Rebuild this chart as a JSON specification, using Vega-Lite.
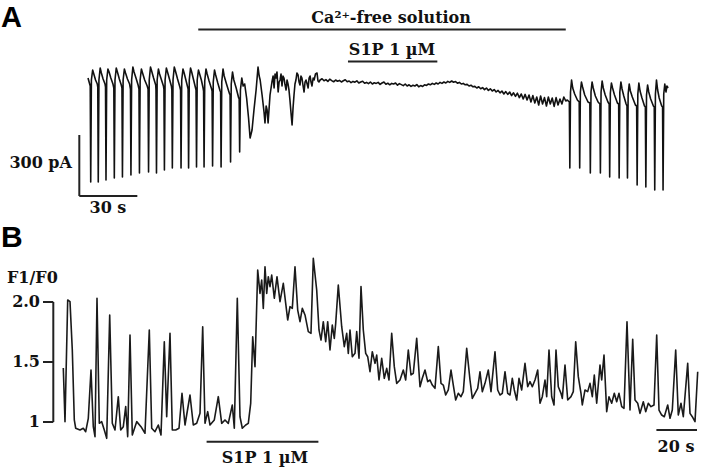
{
  "$schema": "https://vega.github.io/schema/vega-lite/v6.json",
  "padding": 0,
  "spacing": 0,
  "background": "white",
  "config": {"view": {"stroke": null}},
  "vconcat": [
    {
      "width": 706,
      "height": 218,
      "layer": [
        {
          "data": {"values": [
            {"t":0,"v":-30},
            {"t":1.15,"v":-70},{"t":1.4,"v":-550},{"t":1.75,"v":-40},{"t":2.4,"v":10},{"t":3.0,"v":-10},{"t":3.9,"v":-40},{"t":4.8,"v":-60},
            {"t":5.05,"v":-75},{"t":5.3,"v":-550},{"t":5.65,"v":-40},{"t":6.3,"v":20},{"t":6.9,"v":-5},{"t":7.8,"v":-35},{"t":8.8,"v":-60},
            {"t":9.05,"v":-75},{"t":9.3,"v":-540},{"t":9.65,"v":-40},{"t":10.3,"v":15},{"t":10.9,"v":0},{"t":11.8,"v":-30},{"t":12.9,"v":-60},
            {"t":13.35,"v":-80},{"t":13.6,"v":-530},{"t":13.95,"v":-40},{"t":14.6,"v":20},{"t":15.2,"v":0},{"t":16.2,"v":-35},{"t":17.2,"v":-65},
            {"t":17.55,"v":-80},{"t":17.8,"v":-525},{"t":18.15,"v":-40},{"t":18.8,"v":15},{"t":19.4,"v":-5},{"t":20.4,"v":-35},{"t":21.5,"v":-60},
            {"t":21.95,"v":-85},{"t":22.2,"v":-515},{"t":22.55,"v":-40},{"t":23.2,"v":25},{"t":23.8,"v":0},{"t":24.8,"v":-30},{"t":25.9,"v":-65},
            {"t":26.35,"v":-85},{"t":26.6,"v":-505},{"t":26.95,"v":-40},{"t":27.6,"v":15},{"t":28.2,"v":-5},{"t":29.3,"v":-40},{"t":30.6,"v":-70},
            {"t":31.05,"v":-85},{"t":31.3,"v":-500},{"t":31.65,"v":-40},{"t":32.3,"v":25},{"t":32.9,"v":5},{"t":33.9,"v":-30},{"t":35.0,"v":-65},
            {"t":35.15,"v":-90},{"t":35.4,"v":-505},{"t":35.75,"v":-40},{"t":36.4,"v":15},{"t":37.0,"v":-10},{"t":38.0,"v":-40},{"t":39.0,"v":-70},
            {"t":39.25,"v":-85},{"t":39.5,"v":-490},{"t":39.85,"v":-40},{"t":40.5,"v":20},{"t":41.1,"v":0},{"t":42.1,"v":-35},{"t":43.1,"v":-70},
            {"t":43.35,"v":-90},{"t":43.6,"v":-480},{"t":43.95,"v":-40},{"t":44.6,"v":25},{"t":45.2,"v":5},{"t":46.3,"v":-35},{"t":47.5,"v":-75},
            {"t":47.85,"v":-90},{"t":48.1,"v":-480},{"t":48.45,"v":-40},{"t":49.1,"v":15},{"t":49.7,"v":-5},{"t":50.6,"v":-40},{"t":51.5,"v":-75},
            {"t":51.75,"v":-85},{"t":52.0,"v":-480},{"t":52.35,"v":-40},{"t":53.0,"v":20},{"t":53.6,"v":0},{"t":54.6,"v":-40},{"t":55.6,"v":-80},
            {"t":55.85,"v":-90},{"t":56.1,"v":-475},{"t":56.45,"v":-40},{"t":57.1,"v":10},{"t":57.7,"v":-10},{"t":58.6,"v":-40},{"t":59.5,"v":-80},
            {"t":59.75,"v":-95},{"t":60.0,"v":-475},{"t":60.35,"v":-45},{"t":61.0,"v":15},{"t":61.6,"v":-10},{"t":62.6,"v":-45},{"t":63.9,"v":-85},
            {"t":64.15,"v":-95},{"t":64.4,"v":-470},{"t":64.75,"v":-50},{"t":65.4,"v":10},{"t":66.0,"v":-15},{"t":67.1,"v":-55},{"t":68.3,"v":-95},
            {"t":68.55,"v":-100},{"t":68.8,"v":-475},{"t":69.15,"v":-50},{"t":69.8,"v":15},{"t":70.4,"v":-20},{"t":71.6,"v":-60},{"t":73.2,"v":-110},
            {"t":73.45,"v":-110},{"t":73.7,"v":-450},{"t":74.05,"v":-60},{"t":74.7,"v":0},{"t":75.4,"v":-40},{"t":76.6,"v":-80},{"t":77.9,"v":-130},
            {"t":78.15,"v":-130},{"t":78.4,"v":-400},{"t":78.8,"v":-90},{"t":79.5,"v":-30},{"t":80.2,"v":-70},{"t":81.0,"v":-60},{"t":82.0,"v":-130},
            {"t":83.0,"v":-230},{"t":83.8,"v":-330},{"t":84.8,"v":-290},{"t":85.8,"v":-190},{"t":86.9,"v":-90},{"t":87.9,"v":25},{"t":88.5,"v":-20},
            {"t":89.0,"v":-40},{"t":90.0,"v":-115},{"t":91.0,"v":-200},{"t":91.5,"v":-255},{"t":92.1,"v":-170},{"t":92.6,"v":-190},{"t":93.1,"v":-255},
            {"t":94.1,"v":-115},{"t":95.1,"v":-50},{"t":95.7,"v":-20},{"t":96.2,"v":-80},{"t":96.7,"v":-10},{"t":97.2,"v":-30},{"t":97.7,"v":0},
            {"t":98.3,"v":-100},{"t":98.8,"v":-50},{"t":99.3,"v":-40},{"t":99.8,"v":-10},{"t":100.3,"v":-70},{"t":100.8,"v":-20},{"t":101.3,"v":-30},
            {"t":101.8,"v":-60},{"t":102.4,"v":-90},{"t":102.9,"v":-40},{"t":103.4,"v":-60},{"t":103.9,"v":-90},{"t":104.4,"v":-140},{"t":105.0,"v":-210},
            {"t":105.5,"v":-265},{"t":106.0,"v":-180},{"t":106.5,"v":-115},{"t":107.0,"v":-60},{"t":107.5,"v":-40},{"t":108.0,"v":-5},{"t":108.6,"v":-15},
            {"t":109.1,"v":-50},{"t":109.6,"v":-65},{"t":110.1,"v":-20},{"t":110.6,"v":-30},{"t":111.2,"v":-70},{"t":111.7,"v":-100},{"t":112.2,"v":-50},
            {"t":112.7,"v":-40},{"t":113.3,"v":-60},{"t":113.8,"v":-80},{"t":114.3,"v":-30},{"t":114.8,"v":-20},{"t":115.3,"v":-50},{"t":115.8,"v":-70},
            {"t":116.4,"v":-30},{"t":116.9,"v":-40},{"t":117.6,"v":-10},{"t":118.4,"v":-5},{"t":118.9,"v":-45},{"t":119.4,"v":-50},
            {"t":120,"v":-40},{"t":121,"v":-34},{"t":122,"v":-44},{"t":123,"v":-38},{"t":124,"v":-47},{"t":125,"v":-36},{"t":126,"v":-43},{"t":127,"v":-49},
            {"t":128,"v":-40},{"t":129,"v":-46},{"t":130,"v":-42},{"t":131,"v":-50},{"t":132,"v":-44},{"t":133,"v":-39},{"t":134,"v":-49},{"t":135,"v":-45},
            {"t":136,"v":-53},{"t":137,"v":-47},{"t":138,"v":-51},{"t":139,"v":-44},{"t":140,"v":-55},{"t":141,"v":-50},{"t":142,"v":-46},{"t":143,"v":-56},
            {"t":144,"v":-52},{"t":145,"v":-58},{"t":146,"v":-50},{"t":147,"v":-60},{"t":148,"v":-54},{"t":149,"v":-57},{"t":150,"v":-52},{"t":151,"v":-62},
            {"t":152,"v":-55},{"t":153,"v":-50},{"t":154,"v":-61},{"t":155,"v":-56},{"t":156,"v":-64},{"t":157,"v":-57},{"t":158,"v":-60},{"t":159,"v":-55},
            {"t":160,"v":-66},{"t":161,"v":-58},{"t":162,"v":-63},{"t":163,"v":-68},{"t":164,"v":-60},{"t":165,"v":-70},{"t":166,"v":-64},{"t":167,"v":-72},
            {"t":168,"v":-66},{"t":169,"v":-70},{"t":170,"v":-63},{"t":171,"v":-74},{"t":172,"v":-68},{"t":173,"v":-72},{"t":174,"v":-64},{"t":175,"v":-67},
            {"t":176,"v":-60},{"t":177,"v":-64},{"t":178,"v":-57},{"t":179,"v":-62},{"t":180,"v":-55},{"t":181,"v":-60},{"t":182,"v":-52},{"t":183,"v":-57},
            {"t":184,"v":-50},{"t":185,"v":-55},{"t":186,"v":-47},{"t":187,"v":-52},{"t":188,"v":-45},{"t":189,"v":-51},{"t":190,"v":-48},{"t":191,"v":-56},
            {"t":192,"v":-52},{"t":193,"v":-60},{"t":194,"v":-57},{"t":195,"v":-64},{"t":196,"v":-62},{"t":197,"v":-70},{"t":198,"v":-66},{"t":199,"v":-74},
            {"t":200,"v":-72},{"t":201,"v":-80},{"t":202,"v":-74},{"t":203,"v":-84},{"t":204,"v":-78},{"t":205,"v":-88},{"t":206,"v":-80},{"t":207,"v":-92},
            {"t":208,"v":-84},{"t":209,"v":-95},{"t":210,"v":-88},{"t":211,"v":-100},{"t":212,"v":-92},{"t":213,"v":-104},{"t":214,"v":-95},{"t":215,"v":-110},
            {"t":216,"v":-98},{"t":217,"v":-112},{"t":218,"v":-100},{"t":219,"v":-118},{"t":220,"v":-104},{"t":221,"v":-122},{"t":222,"v":-106},{"t":223,"v":-128},
            {"t":224,"v":-110},{"t":225,"v":-135},{"t":226,"v":-112},{"t":227,"v":-140},{"t":228,"v":-115},{"t":229,"v":-150},{"t":230,"v":-118},{"t":231,"v":-155},
            {"t":232,"v":-125},{"t":233,"v":-165},{"t":234,"v":-120},{"t":235,"v":-160},{"t":236,"v":-128},{"t":237,"v":-170},{"t":238,"v":-125},{"t":239,"v":-160},
            {"t":240,"v":-130},{"t":241,"v":-172},{"t":242,"v":-128},{"t":243,"v":-165},{"t":244,"v":-135},{"t":245,"v":-160},{"t":246,"v":-125},{"t":247,"v":-145},
            {"t":247.8,"v":-140},
            {"t":248.85,"v":-150},{"t":249.1,"v":-480},{"t":249.45,"v":-100},{"t":250.0,"v":-40},{"t":250.6,"v":-80},{"t":251.6,"v":-110},{"t":253.0,"v":-140},
            {"t":253.95,"v":-150},{"t":254.2,"v":-480},{"t":254.55,"v":-100},{"t":255.1,"v":-50},{"t":255.7,"v":-75},{"t":256.8,"v":-115},{"t":258.5,"v":-150},
            {"t":259.45,"v":-155},{"t":259.7,"v":-505},{"t":260.05,"v":-100},{"t":260.6,"v":-50},{"t":261.2,"v":-80},{"t":262.3,"v":-120},{"t":263.7,"v":-150},
            {"t":264.65,"v":-160},{"t":264.9,"v":-505},{"t":265.25,"v":-100},{"t":265.8,"v":-45},{"t":266.4,"v":-80},{"t":267.4,"v":-115},{"t":268.8,"v":-150},
            {"t":269.45,"v":-160},{"t":269.7,"v":-525},{"t":270.05,"v":-105},{"t":270.6,"v":-55},{"t":271.2,"v":-80},{"t":272.2,"v":-115},{"t":273.7,"v":-155},
            {"t":274.35,"v":-160},{"t":274.6,"v":-530},{"t":274.95,"v":-100},{"t":275.5,"v":-50},{"t":276.1,"v":-85},{"t":277.0,"v":-120},{"t":278.2,"v":-160},
            {"t":278.65,"v":-170},{"t":278.9,"v":-530},{"t":279.25,"v":-110},{"t":279.8,"v":-60},{"t":280.4,"v":-95},{"t":281.4,"v":-125},{"t":283.0,"v":-165},
            {"t":283.65,"v":-170},{"t":283.9,"v":-565},{"t":284.25,"v":-110},{"t":284.8,"v":-55},{"t":285.4,"v":-95},{"t":286.4,"v":-130},{"t":287.7,"v":-170},
            {"t":288.15,"v":-175},{"t":288.4,"v":-575},{"t":288.75,"v":-115},{"t":289.3,"v":-65},{"t":289.9,"v":-100},{"t":290.9,"v":-135},{"t":292.3,"v":-170},
            {"t":292.75,"v":-175},{"t":293.0,"v":-590},{"t":293.35,"v":-110},{"t":293.9,"v":-40},{"t":294.5,"v":-90},{"t":295.3,"v":-130},{"t":296.6,"v":-170},
            {"t":297.05,"v":-175},{"t":297.3,"v":-590},{"t":297.65,"v":-110},{"t":298.2,"v":-60},{"t":298.8,"v":-100},{"t":299.3,"v":-70},{"t":299.9,"v":-80}
          ]},
          "mark": {"type": "line", "color": "#111111", "strokeWidth": 1.6, "strokeJoin": "round"},
          "encoding": {
            "x": {"field": "t", "type": "quantitative", "scale": {"domain": [-45.5, 319.5], "nice": false, "zero": false}, "axis": null},
            "y": {"field": "v", "type": "quantitative", "scale": {"domain": [-730, 360], "nice": false, "zero": false}, "axis": null}
          }
        },
        {
          "data": {"values": [
            {"x1": 57.0, "x2": 247.0, "y1": 213, "y2": 213},
            {"x1": 134.4, "x2": 180.6, "y1": 52, "y2": 52},
            {"x1": -4.5, "x2": -4.5, "y1": -315, "y2": -620},
            {"x1": -4.5, "x2": 25.5, "y1": -620, "y2": -620}
          ]},
          "mark": {"type": "rule", "color": "#222222", "strokeWidth": 2},
          "encoding": {
            "x": {"field": "x1", "type": "quantitative"},
            "x2": {"field": "x2"},
            "y": {"field": "y1", "type": "quantitative"},
            "y2": {"field": "y2"}
          }
        },
        {
          "data": {"values": [{"t": -45, "v": 225, "label": "A"}]},
          "mark": {"type": "text", "font": "Liberation Sans", "fontWeight": "bold", "fontSize": 29, "align": "left", "baseline": "alphabetic", "color": "#000000"},
          "encoding": {
            "x": {"field": "t", "type": "quantitative"},
            "y": {"field": "v", "type": "quantitative"},
            "text": {"field": "label"}
          }
        },
        {
          "data": {"values": [
            {"t": 156.7, "v": 245, "label": "Ca²⁺-free solution"},
            {"t": 157.2, "v": 85, "label": "S1P 1 µM"},
            {"t": 10.3, "v": -705, "label": "30 s"}
          ]},
          "mark": {"type": "text", "font": "DejaVu Serif", "fontWeight": "bold", "fontSize": 16, "align": "center", "baseline": "alphabetic", "color": "#111111"},
          "encoding": {
            "x": {"field": "t", "type": "quantitative"},
            "y": {"field": "v", "type": "quantitative"},
            "text": {"field": "label"}
          }
        },
        {
          "data": {"values": [{"t": -8.3, "v": -480, "label": "300 pA"}]},
          "mark": {"type": "text", "font": "DejaVu Serif", "fontWeight": "bold", "fontSize": 16, "align": "right", "baseline": "alphabetic", "color": "#111111"},
          "encoding": {
            "x": {"field": "t", "type": "quantitative"},
            "y": {"field": "v", "type": "quantitative"},
            "text": {"field": "label"}
          }
        }
      ]
    },
    {
      "width": 706,
      "height": 256,
      "layer": [
        {
          "data": {"values": [
            {"t":0.65,"f":1.45},{"t":1.5,"f":1.003},{"t":2.85,"f":2.017},{"t":4.0,"f":2.003},{"t":5.15,"f":1.6},{"t":6.15,"f":1.017},
            {"t":6.85,"f":0.948},{"t":9.0,"f":0.933},{"t":10.65,"f":0.948},{"t":11.85,"f":0.919},{"t":13.15,"f":1.031},{"t":14.5,"f":1.433},
            {"t":15.65,"f":0.961},{"t":16.5,"f":0.878},{"t":17.5,"f":2.031},{"t":18.65,"f":0.989},{"t":19.85,"f":1.003},{"t":21.15,"f":0.933},
            {"t":22.35,"f":0.864},{"t":23.85,"f":1.892},{"t":25.15,"f":0.989},{"t":26.5,"f":0.933},{"t":28.15,"f":1.211},{"t":29.35,"f":0.933},
            {"t":30.65,"f":0.961},{"t":31.85,"f":1.128},{"t":32.85,"f":0.878},{"t":34.0,"f":1.725},{"t":35.15,"f":0.892},{"t":37.35,"f":1.003},
            {"t":39.5,"f":0.961},{"t":41.5,"f":0.906},{"t":43.65,"f":1.767},{"t":44.85,"f":0.948},{"t":46.5,"f":0.919},{"t":48.15,"f":0.975},
            {"t":49.5,"f":0.892},{"t":51.15,"f":1.669},{"t":52.35,"f":1.044},{"t":54.0,"f":1.739},{"t":55.15,"f":0.933},{"t":56.85,"f":0.933},
            {"t":58.5,"f":0.948},{"t":60.0,"f":1.239},{"t":61.5,"f":0.975},{"t":64.0,"f":1.225},{"t":65.65,"f":0.975},{"t":67.35,"f":0.989},
            {"t":69.0,"f":1.072},{"t":70.35,"f":1.794},{"t":71.5,"f":0.989},{"t":72.85,"f":1.086},{"t":74.0,"f":0.975},{"t":76.15,"f":1.017},
            {"t":78.15,"f":1.211},{"t":79.85,"f":0.989},{"t":81.5,"f":1.017},{"t":83.15,"f":0.989},{"t":85.15,"f":1.142},{"t":86.15,"f":0.948},
            {"t":87.65,"f":2.031},{"t":89.0,"f":1.044},{"t":90.15,"f":0.948},{"t":91.85,"f":0.975},{"t":93.15,"f":0.989},{"t":94.35,"f":1.156},
            {"t":95.35,"f":1.711},{"t":96.5,"f":1.461},{"t":97.85,"f":2.267},{"t":99.0,"f":2.072},{"t":99.85,"f":2.183},{"t":100.65,"f":1.947},
            {"t":101.5,"f":2.294},{"t":102.35,"f":2.072},{"t":103.15,"f":2.211},{"t":104.0,"f":2.128},{"t":104.85,"f":2.225},{"t":106.15,"f":2.031},
            {"t":107.5,"f":2.211},{"t":109.0,"f":2.003},{"t":110.65,"f":2.156},{"t":111.85,"f":1.989},{"t":112.85,"f":1.85},{"t":114.0,"f":1.961},
            {"t":115.15,"f":1.947},{"t":116.5,"f":2.294},{"t":117.85,"f":1.933},{"t":119.0,"f":1.836},{"t":120.15,"f":1.947},{"t":121.5,"f":1.892},
            {"t":123.15,"f":1.753},{"t":124.5,"f":1.739},{"t":125.65,"f":2.364},{"t":127.35,"f":2.1},{"t":128.5,"f":1.767},{"t":129.5,"f":1.683},
            {"t":130.65,"f":1.836},{"t":131.85,"f":1.669},{"t":132.85,"f":1.836},{"t":134.0,"f":1.6},{"t":135.15,"f":1.808},{"t":136.15,"f":1.697},
            {"t":136.85,"f":1.822},{"t":138.15,"f":2.142},{"t":139.85,"f":1.794},{"t":141.15,"f":1.628},{"t":142.35,"f":1.739},{"t":143.15,"f":1.572},
            {"t":144.0,"f":1.767},{"t":145.15,"f":1.544},{"t":146.5,"f":1.572},{"t":147.35,"f":1.753},{"t":148.5,"f":1.531},{"t":149.5,"f":2.128},
            {"t":150.65,"f":1.767},{"t":151.85,"f":1.572},{"t":152.85,"f":1.544},{"t":154.0,"f":1.419},{"t":155.15,"f":1.586},{"t":156.5,"f":1.489},
            {"t":157.35,"f":1.558},{"t":158.5,"f":1.35},{"t":159.85,"f":1.531},{"t":161.15,"f":1.364},{"t":162.35,"f":1.447},{"t":163.5,"f":1.35},
            {"t":164.85,"f":1.739},{"t":166.15,"f":1.461},{"t":167.35,"f":1.322},{"t":169.0,"f":1.35},{"t":170.65,"f":1.433},{"t":171.85,"f":1.35},
            {"t":173.15,"f":1.6},{"t":174.5,"f":1.392},{"t":175.65,"f":1.406},{"t":177.35,"f":1.697},{"t":179.0,"f":1.294},{"t":180.15,"f":1.364},
            {"t":181.5,"f":1.433},{"t":182.85,"f":1.336},{"t":184.0,"f":1.35},{"t":185.15,"f":1.308},{"t":186.5,"f":1.281},{"t":188.15,"f":1.628},
            {"t":189.5,"f":1.322},{"t":190.65,"f":1.308},{"t":191.85,"f":1.225},{"t":193.15,"f":1.267},{"t":194.5,"f":1.433},{"t":195.65,"f":1.308},
            {"t":196.85,"f":1.183},{"t":198.15,"f":1.239},{"t":199.5,"f":1.211},{"t":200.65,"f":1.253},{"t":202.35,"f":1.614},{"t":204.0,"f":1.35},
            {"t":205.15,"f":1.197},{"t":206.5,"f":1.239},{"t":207.85,"f":1.281},{"t":209.0,"f":1.419},{"t":210.15,"f":1.253},{"t":211.5,"f":1.322},
            {"t":213.15,"f":1.433},{"t":214.5,"f":1.253},{"t":216.5,"f":1.586},{"t":217.85,"f":1.267},{"t":219.0,"f":1.225},{"t":220.15,"f":1.239},
            {"t":221.5,"f":1.419},{"t":222.85,"f":1.239},{"t":224.0,"f":1.225},{"t":225.15,"f":1.364},{"t":226.15,"f":1.267},{"t":227.35,"f":1.183},
            {"t":228.5,"f":1.364},{"t":229.85,"f":1.267},{"t":231.5,"f":1.489},{"t":232.85,"f":1.294},{"t":234.0,"f":1.336},{"t":235.15,"f":1.294},
            {"t":236.5,"f":1.35},{"t":237.85,"f":1.433},{"t":239.0,"f":1.156},{"t":240.15,"f":1.211},{"t":241.5,"f":1.35},{"t":242.35,"f":1.211},
            {"t":243.5,"f":1.6},{"t":244.85,"f":1.211},{"t":246.0,"f":1.142},{"t":247.0,"f":1.6},{"t":248.15,"f":1.294},{"t":249.5,"f":1.239},
            {"t":250.15,"f":1.197},{"t":251.5,"f":1.475},{"t":252.85,"f":1.183},{"t":254.5,"f":1.211},{"t":255.65,"f":1.253},{"t":256.85,"f":1.669},
            {"t":258.15,"f":1.378},{"t":259.5,"f":1.239},{"t":260.15,"f":1.142},{"t":261.5,"f":1.267},{"t":262.85,"f":1.253},{"t":264.0,"f":1.322},
            {"t":265.15,"f":1.211},{"t":266.15,"f":1.392},{"t":267.35,"f":1.156},{"t":269.0,"f":1.475},{"t":269.85,"f":1.35},{"t":271.0,"f":1.558},
            {"t":272.35,"f":1.086},{"t":273.5,"f":1.211},{"t":274.85,"f":1.156},{"t":276.15,"f":1.239},{"t":277.35,"f":1.169},{"t":278.5,"f":1.239},
            {"t":279.85,"f":1.128},{"t":281.0,"f":1.114},{"t":282.5,"f":1.836},{"t":284.0,"f":1.1},{"t":285.35,"f":1.689},{"t":286.5,"f":1.183},
            {"t":287.85,"f":1.156},{"t":289.0,"f":1.072},{"t":290.65,"f":1.169},{"t":291.85,"f":1.086},{"t":293.15,"f":1.156},{"t":294.5,"f":1.128},
            {"t":296.0,"f":1.142},{"t":297.35,"f":1.725},{"t":298.5,"f":1.1},{"t":299.85,"f":1.058},{"t":301.15,"f":1.044},{"t":302.85,"f":1.142},
            {"t":304.0,"f":1.031},{"t":305.15,"f":1.1},{"t":306.85,"f":1.6},{"t":308.15,"f":1.058},{"t":309.5,"f":1.156},{"t":310.65,"f":1.044},
            {"t":312.85,"f":1.489},{"t":314.0,"f":1.072},{"t":315.15,"f":1.044},{"t":316.5,"f":1.003},{"t":317.85,"f":1.419}
          ]},
          "mark": {"type": "line", "color": "#1a1a1a", "strokeWidth": 1.6, "strokeJoin": "round"},
          "encoding": {
            "x": {"field": "t", "type": "quantitative", "scale": {"domain": [-31, 322], "nice": false, "zero": false}, "axis": null},
            "y": {"field": "f", "type": "quantitative", "scale": {"domain": [0.5667, 2.7], "nice": false, "zero": false}, "axis": null}
          }
        },
        {
          "data": {"values": [
            {"x1": -4.35, "x2": -4.35, "y1": 1, "y2": 2},
            {"x1": -9.5, "x2": -4.35, "y1": 2, "y2": 2},
            {"x1": -9.5, "x2": -4.35, "y1": 1.5, "y2": 1.5},
            {"x1": -9.5, "x2": -4.35, "y1": 1, "y2": 1},
            {"x1": 72.3, "x2": 128.2, "y1": 0.836, "y2": 0.836},
            {"x1": 297.2, "x2": 317.5, "y1": 0.933, "y2": 0.933}
          ]},
          "mark": {"type": "rule", "color": "#222222", "strokeWidth": 2},
          "encoding": {
            "x": {"field": "x1", "type": "quantitative"},
            "x2": {"field": "x2"},
            "y": {"field": "y1", "type": "quantitative"},
            "y2": {"field": "y2"}
          }
        },
        {
          "data": {"values": [{"t": -30.5, "f": 2.458, "label": "B"}]},
          "mark": {"type": "text", "font": "Liberation Sans", "fontWeight": "bold", "fontSize": 30, "align": "left", "baseline": "alphabetic", "color": "#000000"},
          "encoding": {
            "x": {"field": "t", "type": "quantitative"},
            "y": {"field": "f", "type": "quantitative"},
            "text": {"field": "label"}
          }
        },
        {
          "data": {"values": [
            {"t": -11, "f": 2.0, "label": "2.0"},
            {"t": -11, "f": 1.5, "label": "1.5"},
            {"t": -11, "f": 1.0, "label": "1"}
          ]},
          "mark": {"type": "text", "font": "DejaVu Serif", "fontWeight": "bold", "fontSize": 16, "align": "right", "baseline": "middle", "color": "#111111"},
          "encoding": {
            "x": {"field": "t", "type": "quantitative"},
            "y": {"field": "f", "type": "quantitative"},
            "text": {"field": "label"}
          }
        },
        {
          "data": {"values": [{"t": -27.5, "f": 2.158, "label": "F1/F0"}]},
          "mark": {"type": "text", "font": "DejaVu Serif", "fontWeight": "bold", "fontSize": 16, "align": "left", "baseline": "alphabetic", "color": "#111111"},
          "encoding": {
            "x": {"field": "t", "type": "quantitative"},
            "y": {"field": "f", "type": "quantitative"},
            "text": {"field": "label"}
          }
        },
        {
          "data": {"values": [
            {"t": 101.5, "f": 0.658, "label": "S1P  1 µM"},
            {"t": 307, "f": 0.753, "label": "20 s"}
          ]},
          "mark": {"type": "text", "font": "DejaVu Serif", "fontWeight": "bold", "fontSize": 16, "align": "center", "baseline": "alphabetic", "color": "#111111"},
          "encoding": {
            "x": {"field": "t", "type": "quantitative"},
            "y": {"field": "f", "type": "quantitative"},
            "text": {"field": "label"}
          }
        }
      ]
    }
  ]
}
